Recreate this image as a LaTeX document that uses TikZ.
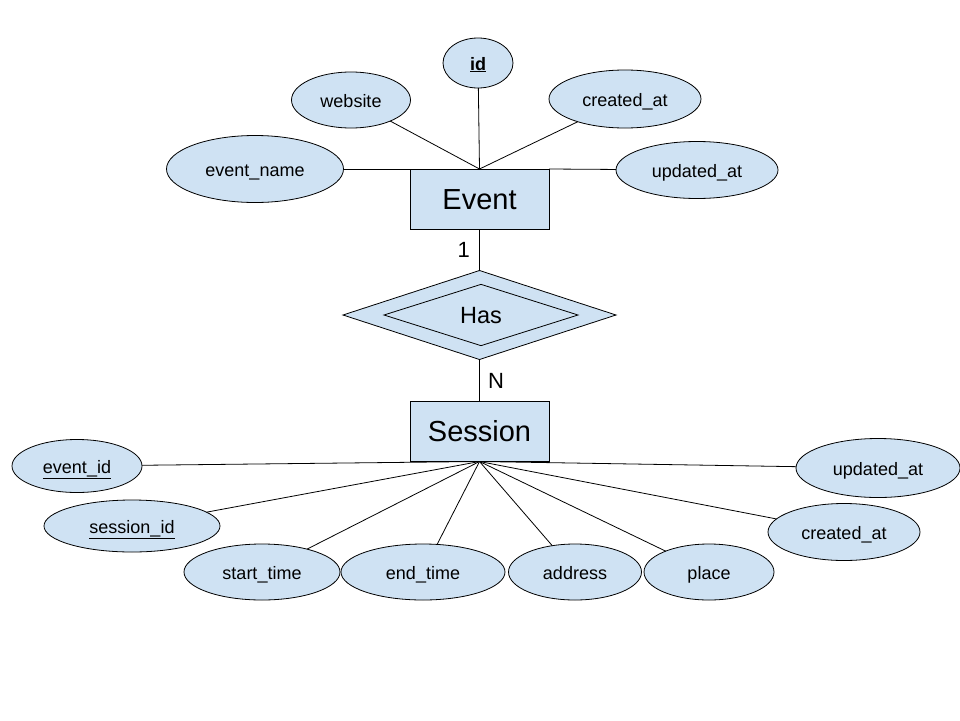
\documentclass[tikz,border=0pt]{standalone}
\usepackage{fontspec}
\setmainfont{Liberation Sans}
\usetikzlibrary{shapes.geometric}
\definecolor{erfill}{HTML}{CFE2F3}
\begin{document}
\begin{tikzpicture}[x=1pt,y=-1pt,
  attr/.style={ellipse,draw=black,fill=erfill,line width=0.8pt,inner sep=0pt,outer sep=0pt,text height=14pt,text depth=0pt,font=\fontsize{18}{20}\selectfont},
  entity/.style={rectangle,draw=black,fill=erfill,line width=0.8pt,inner sep=0pt,outer sep=0pt,minimum width=139pt,minimum height=60pt,text height=22pt,text depth=2pt,font=\fontsize{29}{32}\selectfont},
  relbox/.style={diamond,draw=black,fill=erfill,line width=0.8pt,inner sep=0pt,outer sep=0pt},
  conn/.style={draw=black,line width=0.8pt},
  card/.style={font=\fontsize{22}{24}\selectfont}]
\useasboundingbox[fill=white] (0,0) rectangle (960,720);
% Event
\node[entity] (ev) at (479.5,199) {Event};
\node[attr,minimum width=70pt,minimum height=50pt] (eid) at (478,63) {\underline{\textbf{id}}};
\node[attr,minimum width=119pt,minimum height=56pt] (web) at (351,100) {website};
\node[attr,minimum width=152pt,minimum height=58pt] (eca) at (625,99) {created\_at};
\node[attr,minimum width=177pt,minimum height=67pt] (ename) at (255,169) {event\_name};
\node[attr,minimum width=162pt,minimum height=57pt] (eua) at (697,170) {updated\_at};
\draw[conn] (ename) -- (ev.north west);
\draw[conn] (eua) -- (ev.north east);
\draw[conn] (web) -- (ev.north);
\draw[conn] (eid) -- (ev.north);
\draw[conn] (eca) -- (ev.north);
% Relationship
\node[relbox,minimum width=273pt,minimum height=89pt] (has) at (479.5,315) {};
\node[relbox,fill=none,minimum width=194pt,minimum height=60pt,text height=18pt,text depth=1.5pt,font=\fontsize{23.5}{26}\selectfont] (hasin) at (481,315) {Has};
% Session
\node[entity] (se) at (479.5,431.5) {Session};
\draw[conn] (ev.south) -- node[card,left=6pt,pos=0.5] (c1) {1} (has.north);
\draw[conn] (has.south) -- node[card,right=5pt,pos=0.5] (cn) {N} (se.north);
% Session attributes
\node[attr,minimum width=130pt,minimum height=53pt] (seid) at (77,466) {\underline{event\_id}};
\node[attr,minimum width=176pt,minimum height=52pt] (ssid) at (132,526) {\underline{session\_id}};
\node[attr,minimum width=156pt,minimum height=56pt] (sst) at (262,572) {start\_time};
\node[attr,minimum width=164pt,minimum height=56pt] (set) at (423,572) {end\_time};
\node[attr,minimum width=133pt,minimum height=56pt] (sad) at (575,572) {address};
\node[attr,minimum width=130pt,minimum height=56pt] (spl) at (709,572) {place};
\node[attr,minimum width=152pt,minimum height=57pt] (sca) at (844,532) {created\_at};
\node[attr,minimum width=164pt,minimum height=59pt] (sua) at (878,468) {updated\_at};
\foreach \a in {seid,ssid,sst,set,sad,spl,sca,sua}
  \draw[conn] (se.south) -- (\a);
\end{tikzpicture}
\end{document}
